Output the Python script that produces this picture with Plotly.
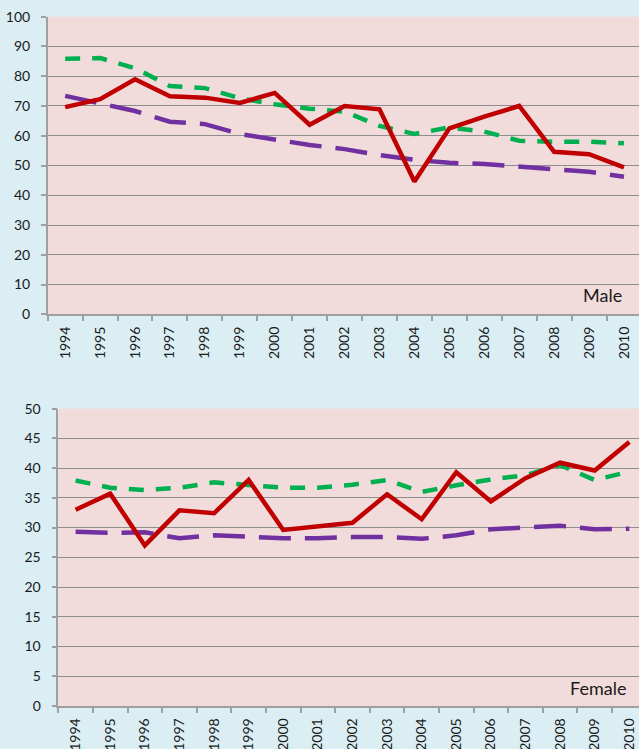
import plotly.graph_objects as go

years = [str(y) for y in range(1994, 2011)]

male_red = [69.6, 72.3, 79.0, 73.3, 72.8, 71.0, 74.4, 63.7, 70.0, 68.9, 44.6, 62.5, 66.4, 70.0, 54.6, 53.8, 49.4]
male_green = [85.9, 86.1, 82.7, 76.7, 76.0, 72.6, 70.6, 69.1, 68.1, 63.3, 60.6, 62.8, 61.4, 58.3, 58.0, 58.0, 57.5]
male_purple = [73.4, 70.7, 68.3, 64.7, 63.9, 60.6, 58.8, 56.9, 55.5, 53.5, 51.9, 50.9, 50.5, 49.6, 48.9, 47.9, 46.2]

female_red = [33.0, 35.7, 27.0, 32.9, 32.4, 38.0, 29.6, 30.2, 30.8, 35.6, 31.4, 39.3, 34.4, 38.3, 40.9, 39.6, 44.4]
female_green = [37.9, 36.7, 36.3, 36.7, 37.6, 37.2, 36.7, 36.7, 37.2, 38.0, 36.0, 37.1, 38.1, 38.8, 40.5, 38.0, 39.4]
female_purple = [29.3, 29.1, 29.2, 28.2, 28.7, 28.5, 28.2, 28.2, 28.4, 28.4, 28.1, 28.7, 29.7, 30.0, 30.3, 29.7, 29.8]

RED = "#C00000"
GREEN = "#00B050"
PURPLE = "#7030A0"
LW = 4.5
FONT = "Lato"
TXT = "#1A1A1A"
GRID = "#8E8E8E"
AX = "#A0A0A0"

W, H = 639, 749

fig = go.Figure()

def add_series(xa, ya, red, green, purple):
    fig.add_trace(go.Scatter(x=years, y=purple, mode="lines", xaxis=xa, yaxis=ya,
                             line=dict(color=PURPLE, width=LW, dash="32px,14px"), showlegend=False))
    fig.add_trace(go.Scatter(x=years, y=green, mode="lines", xaxis=xa, yaxis=ya,
                             line=dict(color=GREEN, width=LW, dash="15px,12px"), showlegend=False))
    fig.add_trace(go.Scatter(x=years, y=red, mode="lines", xaxis=xa, yaxis=ya,
                             line=dict(color=RED, width=LW), showlegend=False))

add_series("x", "y", male_red, male_green, male_purple)
add_series("x2", "y2", female_red, female_green, female_purple)

def py(pix):
    return 1 - pix / H

xcommon = dict(type="category", tickangle=-90, tickson="boundaries", ticks="outside",
               ticklen=5, tickcolor=AX, tickwidth=1.5, showline=True, linecolor=AX, linewidth=1.5,
               showgrid=False, zeroline=False, tickfont=dict(family=FONT, size=14, color=TXT),
               ticklabelstandoff=5, automargin=False)
ycommon = dict(ticks="outside", ticklen=5, tickcolor=AX, tickwidth=1.5, showline=True,
               linecolor=AX, linewidth=1.5, showgrid=True, gridcolor=GRID, gridwidth=1.3,
               zeroline=False, tickfont=dict(family=FONT, size=14, color=TXT),
               ticklabelstandoff=8, automargin=False)

fig.update_layout(
    width=W, height=H,
    margin=dict(l=0, r=0, t=0, b=0, pad=0, autoexpand=False),
    paper_bgcolor="#DBEEF4",
    plot_bgcolor="#F2DCDB",
    xaxis=dict(xcommon, domain=[47.7 / W, 1], range=[-0.5, 16.43], anchor="y"),
    yaxis=dict(ycommon, domain=[py(314.3), py(16.7)], range=[0, 100], dtick=10, anchor="x"),
    xaxis2=dict(xcommon, domain=[58.3 / W, 1], range=[-0.5, 16.28], anchor="y2"),
    yaxis2=dict(ycommon, domain=[py(706), py(408.6)], range=[0, 50], dtick=5, anchor="x2"),
    annotations=[
        dict(text="Male", xref="paper", yref="paper", x=624 / W, y=py(295), xanchor="right",
             yanchor="middle", showarrow=False, font=dict(family=FONT, size=18, color=TXT)),
        dict(text="Female", xref="paper", yref="paper", x=628 / W, y=py(688), xanchor="right",
             yanchor="middle", showarrow=False, font=dict(family=FONT, size=18, color=TXT)),
    ],
)

fig.write_html("out.html", config={"displayModeBar": False},
               post_script="document.body.style.margin='0';document.body.style.overflow='hidden';")
